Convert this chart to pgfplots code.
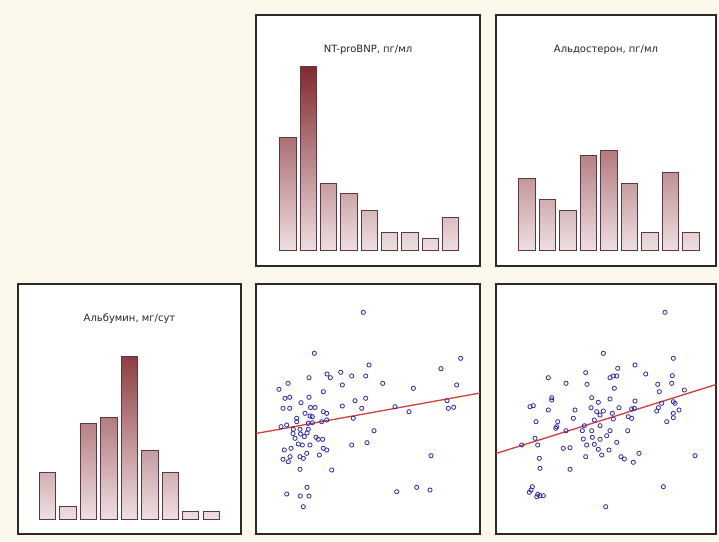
\documentclass[border=0pt]{standalone}
\usepackage{pgfplots}
\pgfplotsset{compat=1.18}
\usepackage{fontspec}
\setmainfont{DejaVu Sans}
\definecolor{bgcream}{HTML}{FCF9EC}
\definecolor{bardark}{HTML}{7E2328}
\definecolor{barlight}{HTML}{EEDFE2}
\definecolor{barline}{HTML}{5E3840}
\definecolor{markblue}{HTML}{2B2BB0}
\definecolor{linered}{HTML}{D23C3C}
\definecolor{frame}{HTML}{2A2A2A}
\definecolor{titlegray}{HTML}{262626}
\newcommand{\histbar}[3]{\addplot[ybar, bar width=0.8, bar shift=0pt, draw=barline, line width=0.8pt, top color=bardark!#3!barlight, bottom color=barlight] coordinates {(#1,#2)};}
\pgfplotsset{
  panel/.style={scale only axis, anchor=north west,
    axis background/.style={fill=white},
    axis line style={draw=frame, line width=1.3pt},
    xtick=\empty, ytick=\empty, clip=true},
  scat/.style={only marks, mark=o, mark size=2.1pt, color=markblue, mark options={line width=0.8pt}},
}
\begin{document}
\begin{tikzpicture}
\fill[bgcream] (0pt,0pt) rectangle (719pt,-541pt);

% NT-proBNP histogram
\begin{axis}[panel, at={(256pt,-15pt)}, width=224pt, height=251pt,
  xmin=-0.563, xmax=10.44, ymin=-15.3, ymax=235.7]
\histbar{1}{113}{59}
\histbar{2}{184.7}{97}
\histbar{3}{67.4}{35}
\histbar{4}{57}{30}
\histbar{5}{40.7}{21}
\histbar{6}{18}{9}
\histbar{7}{18}{9}
\histbar{8}{12.4}{7}
\histbar{9}{33.7}{18}
\node[text=titlegray, font=\fontsize{10}{12}\selectfont] at (rel axis cs:0.5,0.861) {NT-proBNP, пг/мл};
\end{axis}

% Aldosterone histogram
\begin{axis}[panel, at={(496pt,-15pt)}, width=220pt, height=251pt,
  xmin=-0.498, xmax=10.23, ymin=-15.3, ymax=235.7]
\histbar{1}{72.4}{38}
\histbar{2}{51.4}{27}
\histbar{3}{40.7}{21}
\histbar{4}{95.7}{50}
\histbar{5}{100.7}{53}
\histbar{6}{67.4}{35}
\histbar{7}{18}{9}
\histbar{8}{78}{41}
\histbar{9}{18}{9}
\node[text=titlegray, font=\fontsize{10}{12}\selectfont] at (rel axis cs:0.5,0.861) {Альдостерон, пг/мл};
\end{axis}

% Albumin histogram
\begin{axis}[panel, at={(18pt,-284pt)}, width=223pt, height=250pt,
  xmin=-0.443, xmax=10.46, ymin=-15, ymax=235]
\histbar{1}{46.7}{25}
\histbar{2}{13}{7}
\histbar{3}{95.7}{50}
\histbar{4}{101.3}{53}
\histbar{5}{163}{86}
\histbar{6}{69}{36}
\histbar{7}{46.7}{25}
\histbar{8}{7.7}{4}
\histbar{9}{7.7}{4}
\node[text=titlegray, font=\fontsize{10}{12}\selectfont] at (rel axis cs:0.5,0.86) {Альбумин, мг/сут};
\end{axis}

% Scatter: NT-proBNP vs Albumin
\begin{axis}[panel, at={(256pt,-284pt)}, width=224pt, height=250pt,
  xmin=0, xmax=224, ymin=0, ymax=250]
\addplot[scat] coordinates {
(107.3,221.7) (58.3,180.7) (113,169) (204.7,175.7) (185,165.3) (84.7,161.7)
(71,160) (74.3,156.3) (95.7,158) (109.7,158) (53,156.3) (32,150.7)
(86.3,149) (126.7,150.7) (157.3,145.7) (200.7,149) (23,144.7) (67.3,142.3)
(29,135.7) (33.7,136.7) (53,136.7) (99,133.3) (109.7,135.7) (45,131.3)
(191,133.3) (86.3,128) (27,125.7) (33.7,125.7) (54.5,126.5) (59,126.5)
(105.7,125.7) (139,127.3) (192.3,125.7) (197.7,126.7) (153,122.3) (40.7,115.7)
(49,120.7) (54,118) (56.3,117.3) (67.3,122.3) (70.7,120.7) (40.7,112.3)
(52.3,110.7) (56.3,111.3) (65.7,112.3) (70.7,114) (97.3,115.7) (25,107.3)
(30.7,109) (37.3,104.7) (44,104.7) (52.3,104.7) (37,100.5) (44.5,100)
(51,101) (48.3,97.5) (39,95.7) (60,96.7) (62.3,94.7) (66.7,94.7)
(42.3,90) (46.3,89) (54,89) (67.3,85.7) (70.7,84) (95.7,89)
(111,91.3) (118,103.3) (28.3,84) (35,85.7) (50.7,80.7) (44,77.3)
(47.3,75.7) (34,77.3) (27,74.7) (32.3,72.3) (63.3,79) (44,64.7)
(75.7,64) (175,78.3) (51,46.7) (30.7,40) (44.3,38) (53,38)
(47.3,27.3) (140.7,42.3) (160.7,46.7) (174,44)
};
\addplot[linered, line width=1.3pt] coordinates {(0,100.5) (224,141)};
\end{axis}

% Scatter: Aldosterone vs Albumin
\begin{axis}[panel, at={(496pt,-284pt)}, width=220pt, height=250pt,
  xmin=0, xmax=220, ymin=0, ymax=250]
\addplot[scat] coordinates {
(169,221.7) (107.3,180.7) (139,169) (121.7,165.7) (177.3,175.7) (89.7,161.3)
(149.7,160) (52.3,156.3) (114,156.3) (117.3,158) (120.7,158) (176.3,158.3)
(70,150.7) (91,149.7) (161.7,149.7) (175.7,150.7) (118.3,145.7) (163.3,142.3)
(188.3,144) (55.7,136.3) (55.7,134) (95.7,136.3) (114,135) (34,127.3)
(37.3,128.3) (102.3,131.7) (139,133) (165.7,130.7) (177.3,132.3) (179,130.7)
(52.3,124) (79,124) (95,126.3) (100.7,122.3) (107.3,123) (104,119)
(116.3,120.7) (123,126.3) (135.7,125) (138.3,125.7) (160.7,123) (162.3,126.3)
(183,124) (177.3,120.7) (177.3,116.3) (40,112.3) (77.3,115.7) (98.3,114)
(117.3,115) (132.3,117.3) (135.7,115.7) (170.7,112.3) (61.7,112.3) (60.7,107.3)
(59.7,105.7) (88.3,108.3) (86.3,103.3) (104,108.3) (95.7,103.3) (114,103.3)
(131.7,103.3) (70,103.3) (39,95.7) (87.3,95) (96.3,96.7) (104,94.7)
(110.7,98.3) (41.7,89) (25.7,89) (90.7,89) (98.3,89.7) (120.7,91.7)
(67.3,85.7) (74,86.3) (102.3,84.7) (105.7,79) (113,84) (143,80.7)
(89.7,77.3) (125,77.3) (128.3,75) (137.3,71.7) (199,78.3) (43.3,75.7)
(44,65.7) (74,64.7) (36.3,47.3) (35,44) (33.3,41.7) (41.7,39.7)
(44,38.3) (47.3,38.3) (40.7,37.3) (167.3,47.3) (109.7,27.3)
};
\addplot[linered, line width=1.3pt] coordinates {(0,80.5) (220,149.5)};
\end{axis}
\end{tikzpicture}
\end{document}
